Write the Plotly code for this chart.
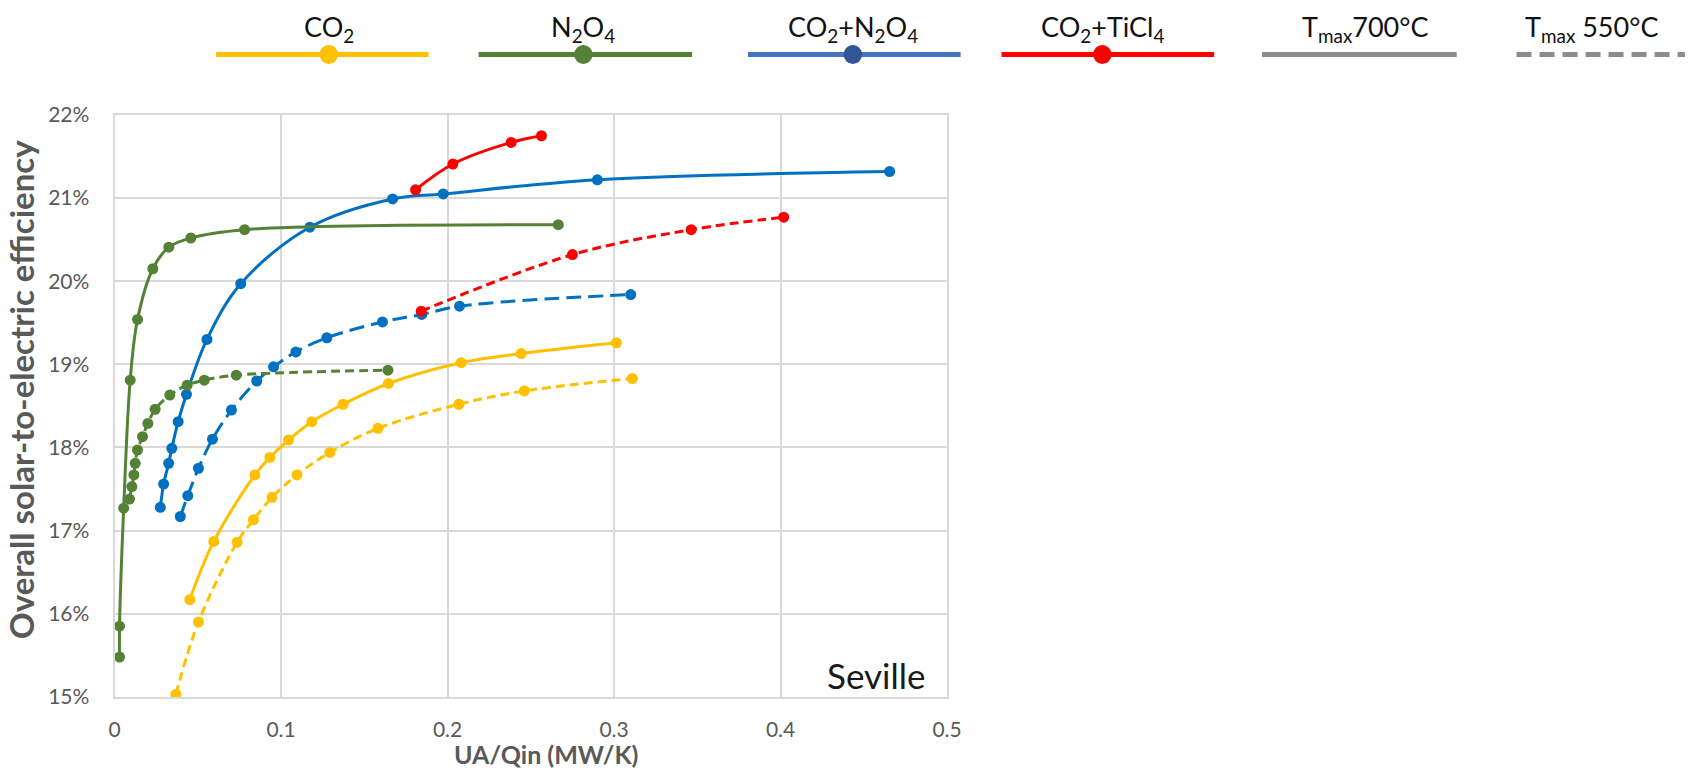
import plotly.graph_objects as go

W, H = 1694, 780

# UA/Qin (MW/K) and overall solar-to-electric efficiency (%) per working fluid
co2_700_x = [0.0452, 0.0596, 0.0843, 0.0933, 0.1045, 0.1185, 0.1373, 0.1645, 0.2082, 0.2442, 0.3014]
co2_700_y = [16.17, 16.87, 17.67, 17.88, 18.09, 18.31, 18.52, 18.77, 19.02, 19.13, 19.26]

co2_550_x = [0.0368, 0.0504, 0.0736, 0.0834, 0.0946, 0.1095, 0.1293, 0.1582, 0.2068, 0.2461, 0.3110]
co2_550_y = [15.03, 15.90, 16.86, 17.13, 17.40, 17.67, 17.94, 18.23, 18.52, 18.68, 18.83]

n2o4_700_x = [0.0030, 0.0030, 0.0055, 0.0094, 0.0138, 0.0230, 0.0326, 0.0458, 0.0781, 0.2665]
n2o4_700_y = [15.48, 15.85, 17.27, 18.81, 19.54, 20.15, 20.41, 20.52, 20.62, 20.68]

n2o4_550_x = [0.0090, 0.0104, 0.0116, 0.0124, 0.0138, 0.0168, 0.0200, 0.0244, 0.0332, 0.0436,
              0.0539, 0.0731, 0.1642]
n2o4_550_y = [17.38, 17.53, 17.67, 17.81, 17.97, 18.13, 18.29, 18.46, 18.63, 18.75,
              18.81, 18.87, 18.93]

mix_n2o4_700_x = [0.0275, 0.0295, 0.0325, 0.0344, 0.0382, 0.0432, 0.0555, 0.0758, 0.1173, 0.1670,
                  0.1974, 0.2900, 0.4655]
mix_n2o4_700_y = [17.28, 17.56, 17.81, 17.99, 18.31, 18.64, 19.30, 19.97, 20.65, 20.99,
                  21.05, 21.22, 21.32]

mix_n2o4_550_x = [0.0395, 0.0440, 0.0504, 0.0588, 0.0702, 0.0854, 0.0955, 0.1089, 0.1275, 0.1609,
                  0.1845, 0.2072, 0.3100]
mix_n2o4_550_y = [17.17, 17.42, 17.75, 18.10, 18.45, 18.80, 18.97, 19.15, 19.32, 19.51,
                  19.60, 19.70, 19.84]

mix_ticl4_700_x = [0.1808, 0.2032, 0.2382, 0.2564]
mix_ticl4_700_y = [21.10, 21.41, 21.67, 21.75]

mix_ticl4_550_x = [0.1842, 0.2750, 0.3463, 0.4019]
mix_ticl4_550_y = [19.64, 20.32, 20.62, 20.77]

legend_labels = ["CO<sub>2</sub>", "N<sub>2</sub>O<sub>4</sub>", "CO<sub>2</sub>+N<sub>2</sub>O<sub>4</sub>",
                 "CO<sub>2</sub>+TiCl<sub>4</sub>", "T<sub>max</sub>700°C", "T<sub>max</sub> 550°C"]

YELLOW, GREEN, BLUE, RED = "#FFC000", "#548235", "#0070C0", "#FF0000"
SHORT_DASH = "9px,5px"
LONG_DASH = "15px,7px"
FONT = "Lato"


def fx(p):
    return p / W


def fy(p):
    return 1 - p / H


fig = go.Figure()

series = [
    (co2_550_x, co2_550_y, YELLOW, SHORT_DASH),
    (co2_700_x, co2_700_y, YELLOW, "solid"),
    (mix_n2o4_550_x, mix_n2o4_550_y, BLUE, LONG_DASH),
    (mix_n2o4_700_x, mix_n2o4_700_y, BLUE, "solid"),
    (n2o4_550_x, n2o4_550_y, GREEN, SHORT_DASH),
    (n2o4_700_x, n2o4_700_y, GREEN, "solid"),
    (mix_ticl4_550_x, mix_ticl4_550_y, RED, SHORT_DASH),
    (mix_ticl4_700_x, mix_ticl4_700_y, RED, "solid"),
]
for xs, ys, color, dash in series:
    fig.add_trace(go.Scatter(
        x=xs, y=ys, mode="lines+markers",
        line=dict(color=color, width=3, dash=dash, shape="spline", smoothing=1),
        marker=dict(size=11, color=color),
        showlegend=False, hoverinfo="skip",
    ))

# Legend row across the top: label above a sample line with a marker
legend_style = [
    # line colour, marker colour, dash, line x0, line x1, marker/label centre (px)
    ("#FFC000", "#FFC000", "solid", 212.7, 427.9, 326.9),
    ("#548235", "#538135", "solid", 478.5, 694.7, 584.6),
    ("#4472C4", "#2F5597", "solid", 751.3, 966.6, 857.5),
    ("#FF0000", "#FF0000", "solid", 1008.0, 1223.3, 1110.1),
    ("#8C8C8C", None, "solid", 1271.8, 1468.9, 1376.9),
    ("#8C8C8C", None, "dash", 1529.5, 1700.0, 1605.3),
]
shapes = []
annotations = []
LEG_Y = 41.8
LEG_TEXT_Y = 14.5
R = 9.3
for label, (lc, mc, dash, x0, x1, xm) in zip(legend_labels, legend_style):
    shapes.append(dict(type="line", xref="paper", yref="paper",
                       x0=fx(x0), x1=fx(x1), y0=fy(LEG_Y), y1=fy(LEG_Y),
                       line=dict(color=lc, width=5, dash="15px,8px" if dash == "dash" else "solid")))
    if mc:
        shapes.append(dict(type="circle", xref="paper", yref="paper",
                           x0=fx(xm - R), x1=fx(xm + R), y0=fy(LEG_Y + R + 0.5), y1=fy(LEG_Y - R - 0.5),
                           fillcolor=mc, line=dict(width=0)))
    annotations.append(dict(text=label, xref="paper", yref="paper", x=fx(xm), y=fy(LEG_TEXT_Y),
                            xanchor="center", yanchor="middle", showarrow=False,
                            font=dict(family=FONT, size=27, color="#111111")))

# Axis titles and the site label
annotations.append(dict(text="<b>Overall solar-to-electric efficiency</b>", xref="paper", yref="paper",
                        x=fx(15), y=fy(387.5), textangle=-90, xanchor="center", yanchor="middle",
                        showarrow=False, font=dict(family=FONT, size=33, color="#595959")))
annotations.append(dict(text="<b>UA/Qin (MW/K)</b>", xref="paper", yref="paper",
                        x=fx(547), y=fy(764), xanchor="center", yanchor="middle",
                        showarrow=False, font=dict(family=FONT, size=25, color="#595959")))
annotations.append(dict(text="Seville", xref="paper", yref="paper",
                        x=fx(933), y=fy(683), xanchor="right", yanchor="middle",
                        showarrow=False, font=dict(family=FONT, size=35, color="#1A1A1A")))

grid = "#D9D9D9"
fig.update_layout(
    width=W, height=H,
    margin=dict(l=0, r=0, t=0, b=0),
    paper_bgcolor="white", plot_bgcolor="white",
    shapes=shapes, annotations=annotations,
    xaxis=dict(domain=[fx(109.9), fx(952.9)], range=[0, 0.5], dtick=0.1, tick0=0,
               showgrid=True, gridcolor=grid, gridwidth=2, zeroline=False,
               showline=True, linecolor=grid, linewidth=2, mirror=True,
               ticks="", ticklabelstandoff=13,
               tickfont=dict(family=FONT, size=21, color="#595959")),
    yaxis=dict(domain=[1 - 705.5 / H, 1 - 104.3 / H], range=[15, 22], dtick=1, tick0=15,
               ticksuffix="%", showgrid=True, gridcolor=grid, gridwidth=2, zeroline=False,
               showline=True, linecolor=grid, linewidth=2, mirror=True,
               ticks="", ticklabelstandoff=19,
               tickfont=dict(family=FONT, size=21, color="#595959")),
)

fig.write_html("out.html")
